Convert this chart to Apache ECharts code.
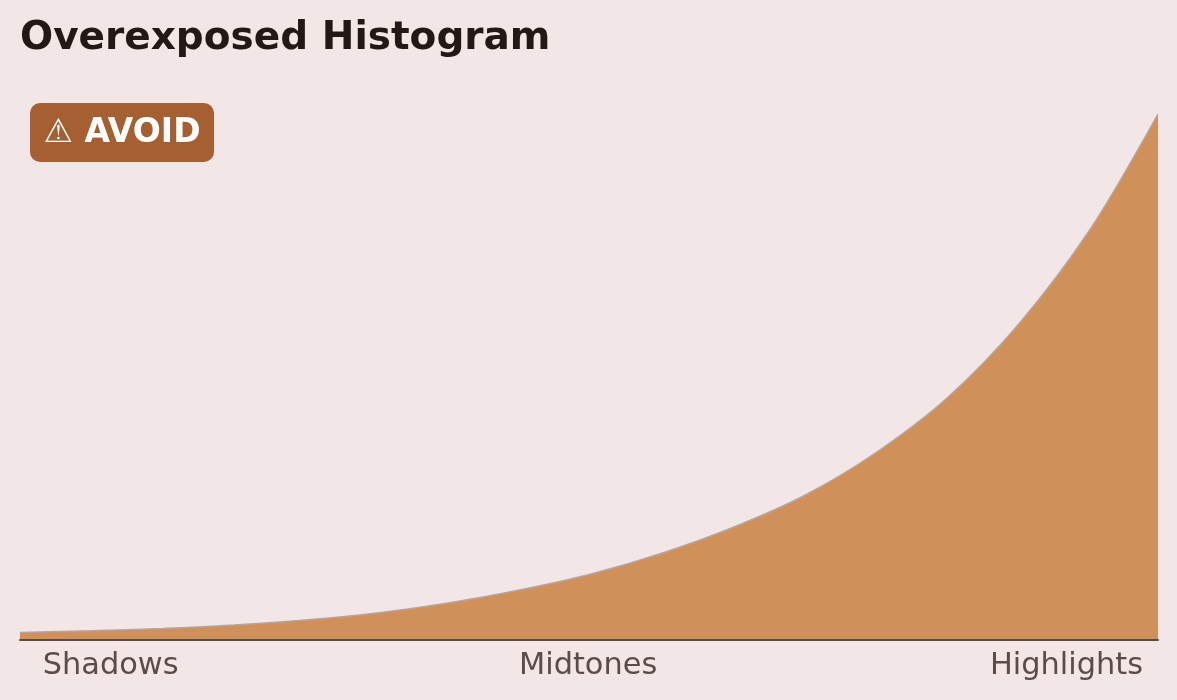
<!DOCTYPE html>
<html>
<head>
<meta charset="utf-8" />
<title>Overexposed Histogram</title>
<script src="https://cdn.jsdelivr.net/npm/echarts@6/dist/echarts.min.js"></script>
<style>
  html, body { margin: 0; padding: 0; background: #f2e6e6; }
  #chart { width: 1177px; height: 700px; }
</style>
</head>
<body>
<div id="chart"></div>
<script>
// tonal bins (0 = black, 255 = white)
var bins = [0, 16, 32, 48, 64, 80, 96, 112, 128, 144, 160, 176, 192, 208, 224, 240, 255];
// pixel counts per bin (arbitrary units)
var counts = [7.5, 9.2, 11.5, 15, 20, 27, 37, 50, 66, 87, 113, 145, 188, 243, 317, 412, 526];
// where the tone names sit on the axis
var toneBins = [20.3, 127.3, 234.5];
var toneNames = ['Shadows', 'Midtones', 'Highlights'];

var points = [];
for (var i = 0; i < bins.length; i++) {
  points.push([bins[i], counts[i]]);
}

var chart = echarts.init(document.getElementById('chart'));
chart.setOption({
  backgroundColor: '#f2e6e6',
  animation: false,
  title: {
    text: 'Overexposed Histogram',
    left: 20,
    top: 19,
    padding: 0,
    textStyle: {
      fontFamily: 'DejaVu Sans',
      fontWeight: 'bold',
      fontSize: 39,
      color: '#231816'
    }
  },
  graphic: [{
    type: 'group',
    left: 30,
    top: 103,
    children: [{
      type: 'rect',
      shape: { x: 0, y: 0, width: 184, height: 59, r: 10 },
      style: { fill: '#a65f31' }
    }, {
      type: 'text',
      x: 92,
      y: 30.5,
      style: {
        text: '⚠ AVOID',
        fill: '#ffffff',
        font: 'bold 33px "DejaVu Sans"',
        textAlign: 'center',
        textVerticalAlign: 'middle'
      }
    }]
  }],
  grid: {
    left: 20,
    right: 19,
    top: 100,
    bottom: 60,
    containLabel: false
  },
  xAxis: {
    type: 'value',
    min: 0,
    max: 255,
    z: 10,
    splitLine: { show: false },
    axisTick: { show: false },
    axisLine: {
      show: true,
      onZero: false,
      lineStyle: { color: '#5a4b48', width: 2 }
    },
    axisLabel: {
      customValues: toneBins,
      margin: 11,
      fontFamily: 'DejaVu Sans',
      fontSize: 30.4,
      color: '#5c4b48',
      formatter: function (v) {
        var k = toneBins.indexOf(v);
        return k >= 0 ? toneNames[k] : '';
      }
    }
  },
  yAxis: {
    type: 'value',
    min: 0,
    max: 540,
    show: false,
    splitLine: { show: false }
  },
  series: [{
    type: 'line',
    data: points,
    smooth: 0.3,
    symbol: 'none',
    lineStyle: { color: '#b3a5a3', width: 1.5 },
    areaStyle: { color: '#cf9159', opacity: 1 }
  }]
});
</script>
</body>
</html>
